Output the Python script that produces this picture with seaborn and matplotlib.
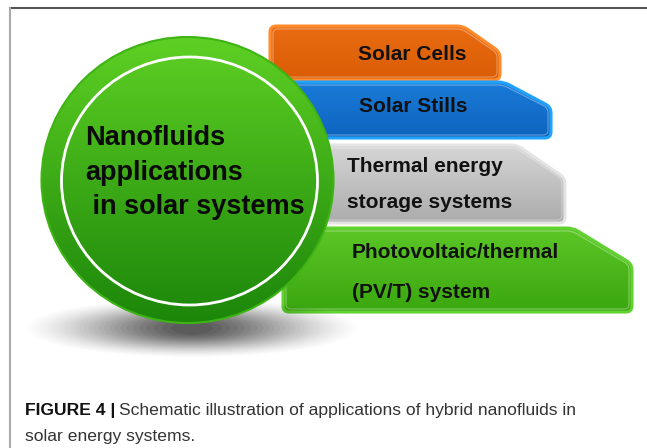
import numpy as np
import matplotlib
matplotlib.use("Agg")
import matplotlib.pyplot as plt
import seaborn as sns
from matplotlib.path import Path
from matplotlib.patches import PathPatch, Ellipse

# labels of the schematic
center_lines = ["Nanofluids", "applications", " in solar systems"]
box_lines = [["Solar Cells"],
             ["Solar Stills"],
             ["Thermal energy", "storage systems"],
             ["Photovoltaic/thermal", "(PV/T) system"]]
box_top_colors = ["#E96C12", "#1A7BD8", "#D6D6D6", "#5CC626"]
box_bot_colors = ["#DA5C04", "#0E64BE", "#ABABAB", "#3AA70F"]
box_edge_colors = ["#FF8C2E", "#22A2FF", "#E4E4E4", "#62D232"]
caption_bold = "FIGURE 4 |"
caption_rest = "Schematic illustration of applications of hybrid nanofluids in"
caption_line2 = "solar energy systems."

# layout in pixels: x0, y0, chamfer x, x1, chamfer y, y1, text x, text align
box_layout = [(270, 26, 463, 500, 52, 80, 412, "center"),
              (290, 82, 504, 551, 107, 138, 413, "center"),
              (300, 145, 517, 565, 178, 223, 347, "left"),
              (283, 228, 573, 632, 264, 312, 352, "left")]
box_text_y = [[55], [107], [167, 203], [252, 292]]

sns.set_theme(style="white")
plt.rcParams['font.family'] = ['Liberation Sans', 'DejaVu Sans']

W, H = 647, 448
fig = plt.figure(figsize=(W / 100, H / 100), dpi=100)
ax = fig.add_axes([0, 0, 1, 1])


def rounded_path(pts, r):
    verts, codes = [], []
    n = len(pts)
    for i in range(n):
        p = np.array(pts[i], float)
        prv = np.array(pts[i - 1], float)
        nxt = np.array(pts[(i + 1) % n], float)
        a = p + (prv - p) / np.linalg.norm(prv - p) * r
        b = p + (nxt - p) / np.linalg.norm(nxt - p) * r
        verts.append(a)
        codes.append(Path.MOVETO if i == 0 else Path.LINETO)
        verts += [p, b]
        codes += [Path.CURVE3, Path.CURVE3]
    verts.append(verts[0])
    codes.append(Path.CLOSEPOLY)
    return Path(verts, codes)


def grad_fill(patch, c_top, c_bot, z, bounds):
    ax.add_patch(patch)
    x0, y0, x1, y1 = bounds
    cmap = sns.blend_palette([c_top, c_bot], as_cmap=True)
    grad = np.linspace(0, 1, 256).reshape(-1, 1)
    im = ax.imshow(grad, extent=(x0, x1, y1, y0), origin="upper", cmap=cmap,
                   aspect="auto", zorder=z, interpolation="bilinear")
    im.set_clip_path(patch)


# frame
ax.plot([10, W], [8, 8], color="#555555", lw=1.5, zorder=1)
ax.plot([10, 10], [8, H], color="#AAAAAA", lw=1.5, zorder=1)

# boxes
for i, (x0, y0, xc, x1, yc, y1, tx, ha) in enumerate(box_layout):
    pts = [(x0, y0), (xc, y0), (x1, yc), (x1, y1), (x0, y1)]
    path = rounded_path(pts, 6)
    patch = PathPatch(path, facecolor="none", edgecolor="none", zorder=2)
    grad_fill(patch, box_top_colors[i], box_bot_colors[i], 2, (x0, y0, x1, y1))
    ax.add_patch(PathPatch(path, facecolor="none", edgecolor=box_edge_colors[i],
                           lw=2.2, zorder=3))
    inner = rounded_path([(x0 + 3, y0 + 3), (xc - 1, y0 + 3), (x1 - 3, yc + 1),
                          (x1 - 3, y1 - 3), (x0 + 3, y1 - 3)], 5)
    ax.add_patch(PathPatch(inner, facecolor="none", edgecolor="white",
                           lw=0.8, alpha=0.35, zorder=3))
    for line, ty in zip(box_lines[i], box_text_y[i]):
        ax.text(tx, ty, line, ha=ha, va="center", fontsize=15,
                fontweight="bold", color="#111111", zorder=4)

# soft shadow under the circle
n_sh = 28
for k in range(n_sh):
    f = 1 - k / n_sh
    ax.add_patch(Ellipse((192, 328), 10 + 320 * f ** 0.7, 8 + 50 * f ** 0.7,
                         facecolor="black", edgecolor="none",
                         alpha=0.012 + 0.07 * (1 - f) ** 2, zorder=4))

# circle
cx, cy, cw, ch = 187.5, 180, 292, 286
circ = Ellipse((cx, cy), cw, ch, facecolor="none", edgecolor="none", zorder=5)
grad_fill(circ, "#5ED024", "#1C860A", 5, (cx - cw / 2, cy - ch / 2, cx + cw / 2, cy + ch / 2))
ax.add_patch(Ellipse((cx, cy), cw, ch, facecolor="none", edgecolor="#3EB414",
                     lw=1.5, zorder=6))
ax.add_patch(Ellipse((cx + 2, cy + 1), 256, 248, facecolor="none",
                     edgecolor="white", lw=2, zorder=6))

center_y = [138, 173, 207]
for line, ty in zip(center_lines, center_y):
    ax.text(85, ty, line, ha="left", va="center", fontsize=19.5,
            fontweight="bold", color="#0A0A0A", zorder=7)

ax.set_xlim(0, W)
ax.set_ylim(H, 0)
ax.axis("off")

# caption
cap_size = 12.6
t1 = ax.text(25, 411, caption_bold, ha="left", va="center", fontsize=cap_size,
             fontweight="bold", color="#111111")
fig.canvas.draw()
bb = t1.get_window_extent().transformed(ax.transData.inverted())
ax.text(bb.x1 + 4, 411, caption_rest, ha="left", va="center", fontsize=cap_size,
        color="#333333")
ax.text(25, 437, caption_line2, ha="left", va="center", fontsize=cap_size,
        color="#333333")

fig.savefig("out.png", dpi=100)
